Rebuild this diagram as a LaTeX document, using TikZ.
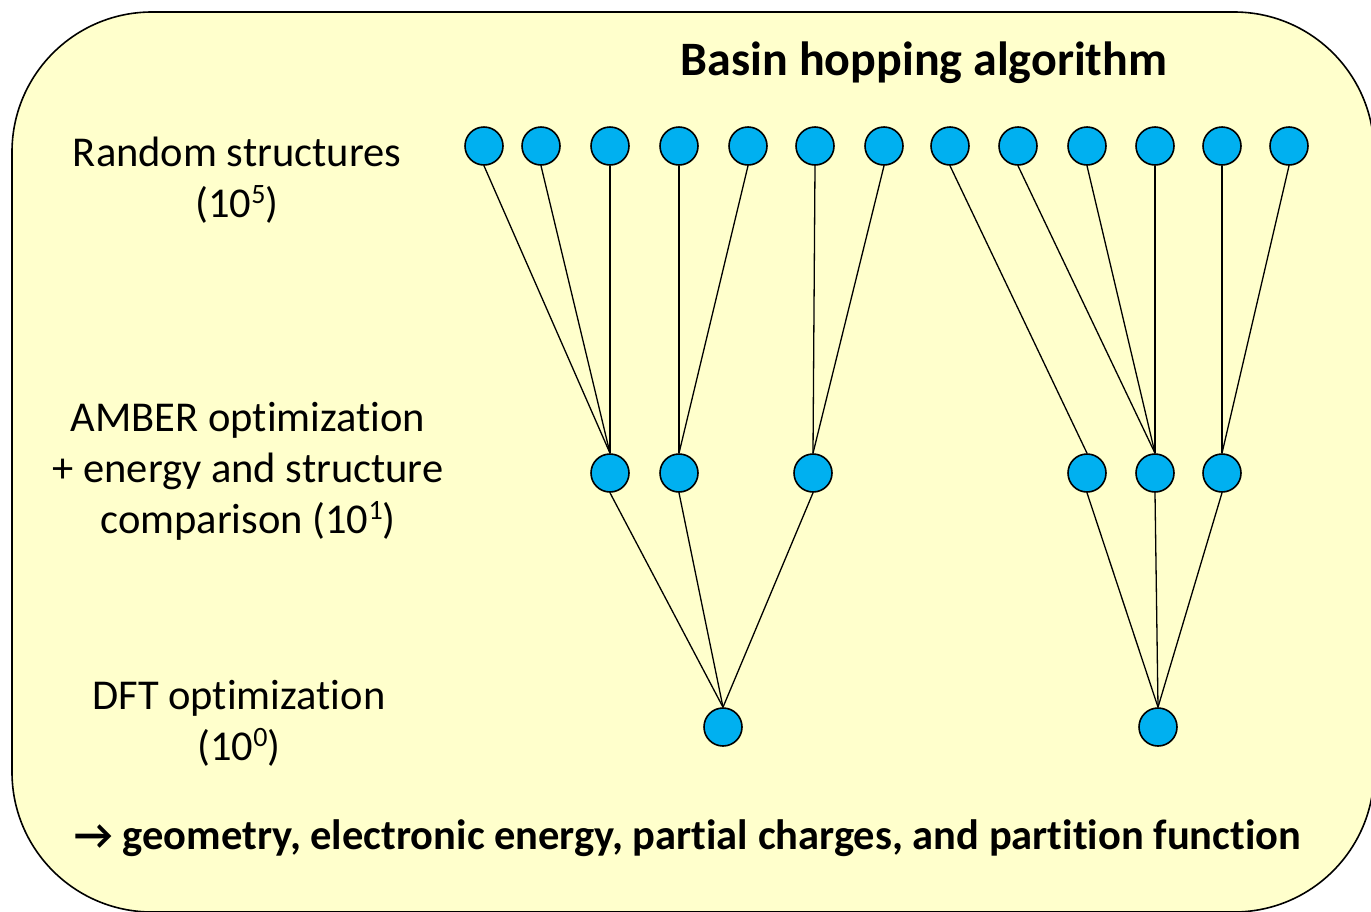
\documentclass[tikz,border=0pt]{standalone}
\usepackage{fontspec}
\setmainfont[Ligatures=NoCommon]{Carlito}
\definecolor{bgyellow}{HTML}{FFFFCC}
\definecolor{ballblue}{HTML}{00B0F0}
\newcommand{\supx}[1]{\raisebox{0.33em}{\fontsize{28}{30}\selectfont #1}}
\tikzset{
  ball/.style={circle, draw=black, line width=1.6pt, fill=ballblue, minimum size=38pt, inner sep=0pt},
  link/.style={draw=black, line width=1.3pt},
  lbl/.style={align=center, font=\fontsize{42.5}{51}\selectfont, inner sep=0pt},
}
\begin{document}
\begin{tikzpicture}[x=1pt,y=-1pt]
\useasboundingbox (0,0) rectangle (1371,911);
\draw[line width=1.6pt, fill=bgyellow, rounded corners=140pt] (12,12) rectangle (1374,912);

\node[font=\fontsize{48}{58}\selectfont\bfseries, inner sep=0pt] (title) at (924,63) {Basin hopping algorithm};

\node[lbl] (l1) at (237,180) {Random structures\\(10\supx{5})};
\node[lbl] (l2) at (248,471) {AMBER optimization\\+ energy and structure\\comparison (10\supx{1})};
\node[lbl] (l3) at (239,723) {DFT optimization\\(10\supx{0})};

\node[font=\fontsize{42.5}{51}\selectfont\bfseries, inner sep=0pt] (res) at (688,838) {→ geometry, electronic energy, partial charges, and partition function};

% top row
\foreach \i/\x in {1/484,2/541,3/610,4/679,5/748,6/815,7/884,8/950,9/1018,10/1087,11/1155,12/1222,13/1289}
  \node[ball] (t\i) at (\x,146) {};
% middle row
\foreach \i/\x in {1/610,2/679,3/813,4/1087,5/1155,6/1222}
  \node[ball] (m\i) at (\x,473) {};
% bottom row
\node[ball] (b1) at (723,727) {};
\node[ball] (b2) at (1158,727) {};

\foreach \a/\b in {t1/m1,t2/m1,t3/m1,t4/m2,t5/m2,t6/m3,t7/m3,t8/m4,t9/m5,t10/m5,t11/m5,t12/m6,t13/m6}
  \draw[link] (\a.south) -- (\b.north);
\foreach \a/\b in {m1/b1,m2/b1,m3/b1,m4/b2,m5/b2,m6/b2}
  \draw[link] (\a.south) -- (\b.north);
\end{tikzpicture}
\end{document}
